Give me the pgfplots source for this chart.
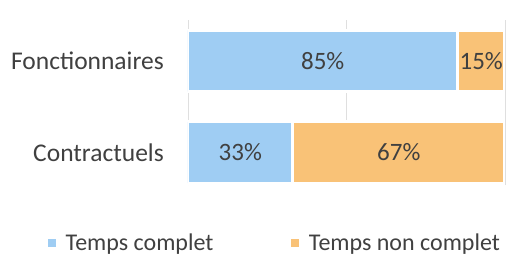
\documentclass[border=0pt]{standalone}
\usepackage{fontspec}
\setmainfont{Carlito}
\usepackage{pgfplots}
\pgfplotsset{compat=1.18}
\definecolor{cblue}{HTML}{9FCDF3}
\definecolor{corange}{HTML}{F9C277}
\definecolor{txt}{HTML}{404040}
\newcommand{\bigf}{\fontsize{25.5}{30}\selectfont}
\newcommand{\midf}{\fontsize{25}{30}\selectfont}
\newcommand{\legf}{\fontsize{24}{28}\selectfont}
\begin{document}
\begin{tikzpicture}
\begin{axis}[
 at={(0,0)}, anchor=south west,
 scale only axis, width=317pt, height=165pt,
 xbar stacked, bar width=0.667,
 xmin=0, xmax=100, ymin=-0.355, ymax=1.448,
 ytick={0,1}, yticklabels={Contractuels,Fonctionnaires},
 xtick={0,50,100}, xticklabels={},
 xmajorgrids, grid style={gray!25, line width=0.8pt},
 axis line style={draw=none},
 major tick style={draw=none},
 y tick label style={font=\bigf, text=txt, inner sep=0pt, xshift=-24pt},
 nodes near coords={\pgfmathprintnumber[assume math mode=true]{\pgfplotspointmeta}\%},
 point meta=explicit,
 every node near coord/.append style={font=\midf, text=txt},
 legend style={at={(-0.4416,-0.3515)}, anchor=west, draw=none, fill=none,
   font=\legf, text=txt, inner sep=0pt, nodes={inner ysep=3pt},
   /tikz/every even column/.append style={column sep=76pt}},
 legend columns=2,
 legend image code/.code={\fill[#1, draw=none] (0pt,-4pt) rectangle (8pt,4pt); \path (14pt,0pt);},
]
\addplot[fill=cblue, draw=white, line width=3pt] coordinates {(33,0) [33] (85,1) [85]};
\addplot[fill=corange, draw=white, line width=3pt] coordinates {(67,0) [67] (15,1) [15]};
\legend{Temps complet, Temps non complet}
\end{axis}
\path (-188pt,-70pt) rectangle (324pt,185pt);
\end{tikzpicture}
\end{document}
